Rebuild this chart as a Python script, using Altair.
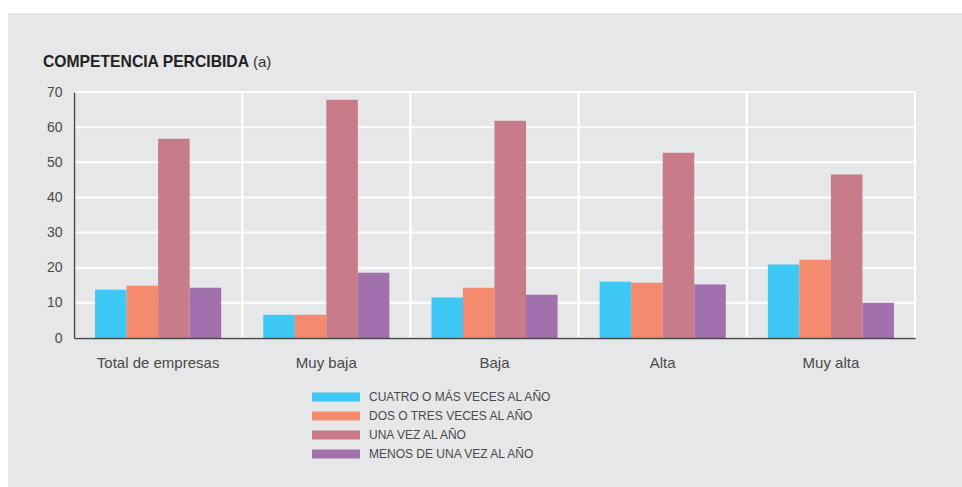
import altair as alt
import pandas as pd

# Survey results by perceived competition level (percent of firms)
categories = ["Total de empresas", "Muy baja", "Baja", "Alta", "Muy alta"]
series = [
    "CUATRO O MÁS VECES AL AÑO",
    "DOS O TRES VECES AL AÑO",
    "UNA VEZ AL AÑO",
    "MENOS DE UNA VEZ AL AÑO",
]
cuatro_o_mas = [13.7, 6.6, 11.5, 16.0, 20.9]
dos_o_tres = [14.9, 6.6, 14.3, 15.7, 22.3]
una_vez = [56.7, 67.8, 61.8, 52.7, 46.5]
menos_de_una = [14.3, 18.6, 12.3, 15.2, 10.0]
colors = ["#40c8f4", "#f48b6e", "#c87c89", "#a270ad"]
y_ticks = [0, 10, 20, 30, 40, 50, 60, 70]

rows = []
for s, vals in zip(series, [cuatro_o_mas, dos_o_tres, una_vez, menos_de_una]):
    for c, v in zip(categories, vals):
        rows.append({"categoria": c, "serie": s, "valor": v})
df = pd.DataFrame(rows)
cats_df = pd.DataFrame({"categoria": categories})
ticks_df = pd.DataFrame({"valor": y_ticks})

FONT = "Liberation Sans"
BG = "#e6e7e9"
TEXT = "#4a4a4a"

x_axis = alt.Axis(
    title=None,
    labelAngle=0,
    labelFontSize=15,
    labelColor=TEXT,
    labelPadding=17,
    ticks=False,
    domainColor=TEXT,
    domainWidth=1.5,
    grid=False,
    zindex=1,
)
y_axis = alt.Axis(
    title=None,
    values=y_ticks,
    labelFontSize=14,
    labelColor=TEXT,
    labelPadding=12,
    ticks=False,
    domainColor=TEXT,
    domainWidth=1.5,
    grid=False,
    zindex=1,
)
x_scale = alt.Scale(domain=categories, paddingInner=0, paddingOuter=0)
y_scale = alt.Scale(domain=[0, 70], nice=False)

# grey panel behind the whole figure
panel = alt.Chart(pd.DataFrame({"p": [0]})).mark_rect(color=BG).encode(
    x=alt.value(-66), x2=alt.value(900), y=alt.value(-79), y2=alt.value(410)
)

# white horizontal grid lines
h_grid = alt.Chart(ticks_df).mark_rule(color="white", strokeWidth=2).encode(
    y=alt.Y("valor:Q", scale=y_scale, axis=y_axis)
)

# white vertical separators at the band edges
v_grid_start = alt.Chart(cats_df).mark_rule(color="white", strokeWidth=2).encode(
    x=alt.X("categoria:N", sort=categories, scale=x_scale, axis=x_axis, bandPosition=0)
)
v_grid_end = alt.Chart(cats_df).mark_rule(color="white", strokeWidth=2).encode(
    x=alt.X("categoria:N", sort=categories, scale=x_scale, axis=x_axis, bandPosition=1)
)

bars = alt.Chart(df).mark_bar(strokeWidth=0).encode(
    x=alt.X("categoria:N", sort=categories, scale=x_scale, axis=x_axis),
    xOffset=alt.XOffset(
        "serie:N",
        sort=series,
        scale=alt.Scale(paddingInner=0, paddingOuter=0.667),
    ),
    y=alt.Y("valor:Q", scale=y_scale, axis=y_axis),
    color=alt.Color(
        "serie:N",
        sort=series,
        scale=alt.Scale(domain=series, range=colors),
        legend=alt.Legend(
            title=None,
            orient="none",
            legendX=255.5,
            legendY=298.5,
            symbolType="M-3.692,-0.692L3.692,-0.692L3.692,0.692L-3.692,0.692Z",
            symbolSize=169,
            symbolStrokeWidth=0,
            symbolOpacity=1,
            labelFontSize=12,
            labelColor=TEXT,
            labelOffset=26.5,
            labelLimit=400,
            rowPadding=6,
        ),
    ),
)

title_main = alt.Chart(pd.DataFrame({"t": ["COMPETENCIA PERCIBIDA"]})).mark_text(
    font=FONT, fontSize=15.7, fontWeight="bold", color="#222222",
    align="left", baseline="alphabetic",
).encode(text="t:N", x=alt.value(-31), y=alt.value(-25))

title_note = alt.Chart(pd.DataFrame({"t": ["(a)"]})).mark_text(
    font=FONT, fontSize=15, color="#333333", align="left", baseline="alphabetic"
).encode(text="t:N", x=alt.value(179), y=alt.value(-25))

chart = (
    alt.layer(panel, h_grid, v_grid_start, v_grid_end, bars, title_main, title_note)
    .properties(
        width=841,
        height=246,
        padding={"left": 74, "top": 92, "right": 47, "bottom": 149},
        autosize=alt.AutoSizeParams(type="none"),
        background="white",
    )
    .configure_view(stroke=None)
    .configure(font=FONT)
    .configure_axis(labelFont=FONT)
    .configure_legend(labelFont=FONT)
)

chart.save("out.html", embed_options={"renderer": "svg", "actions": False})
